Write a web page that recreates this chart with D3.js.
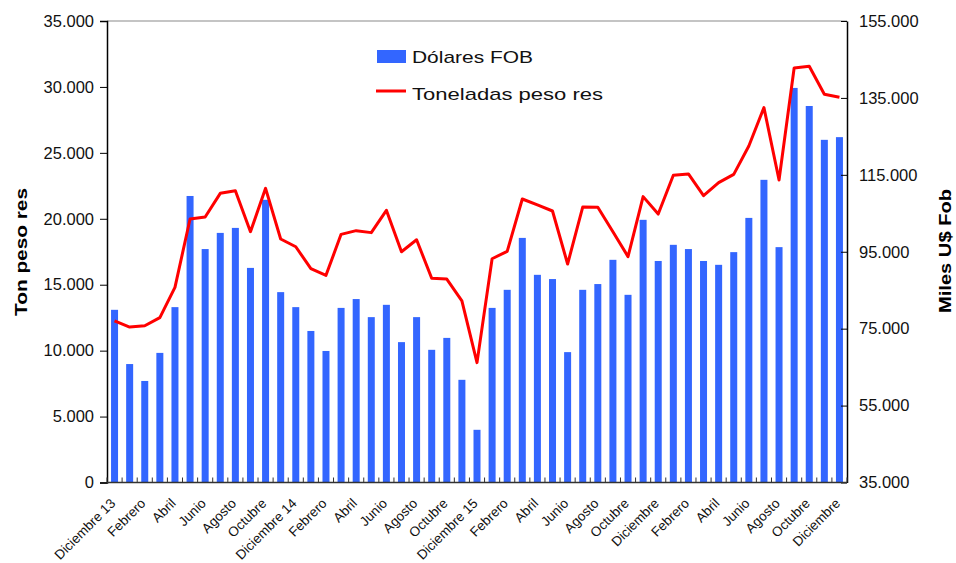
<!DOCTYPE html>
<html>
<head>
<meta charset="utf-8">
<script src="https://cdn.jsdelivr.net/npm/d3@7"></script>
<style>
  body { margin: 0; background: #fff; }
  svg { font-family: "Liberation Sans", Arial, sans-serif; }
</style>
</head>
<body>
<div id="chart"></div>
<script>
// months, Dec 2013 .. Dec 2017
const months = [
  "Diciembre 13", "Enero", "Febrero", "Marzo", "Abril", "Mayo", "Junio", "Julio", "Agosto", "Setiembre", "Octubre", "Noviembre",
  "Diciembre 14", "Enero", "Febrero", "Marzo", "Abril", "Mayo", "Junio", "Julio", "Agosto", "Setiembre", "Octubre", "Noviembre",
  "Diciembre 15", "Enero", "Febrero", "Marzo", "Abril", "Mayo", "Junio", "Julio", "Agosto", "Setiembre", "Octubre", "Noviembre",
  "Diciembre", "Enero", "Febrero", "Marzo", "Abril", "Mayo", "Junio", "Julio", "Agosto", "Setiembre", "Octubre", "Noviembre",
  "Diciembre"
];
// Dólares FOB (miles U$, right axis)
const dolaresFob = [
  79900, 65800, 61400, 68700, 80600, 109500, 95700, 99900, 101200, 90800, 108500, 84500,
  80600, 74400, 69200, 80400, 82700, 78000, 81200, 71500, 78000, 69500, 72600, 61700,
  48700, 80400, 85100, 98600, 89000, 87900, 68900, 85100, 86600, 92900, 83800, 103300,
  92600, 96800, 95700, 92600, 91600, 94900, 103800, 113700, 96200, 137600, 132900, 124100,
  124800
];
// Toneladas peso res (left axis)
const toneladas = [
  12250, 11790, 11890, 12500, 14800, 19980, 20140, 21930, 22130, 19020, 22310, 18470,
  17880, 16220, 15710, 18820, 19100, 18950, 20640, 17500, 18410, 15490, 15430, 13770,
  9090, 16970, 17530, 21500, 21050, 20590, 16570, 20890, 20870, 19020, 17130, 21680,
  20360, 23300, 23400, 21750, 22740, 23370, 25520, 28430, 22940, 31440, 31570, 29440,
  29210
];
const leftTicks = [0, 5000, 10000, 15000, 20000, 25000, 30000, 35000];
const rightTicks = [35000, 55000, 75000, 95000, 115000, 135000, 155000];

const W = 956, H = 563;
const m = { left: 107, right: 847, top: 21, bottom: 482.5 };
const fmt = d => d === 0 ? "0" : d3.format(",")(d).replace(/,/g, ".");

const svg = d3.select("#chart").append("svg").attr("width", W).attr("height", H);

const x = d3.scaleBand().domain(d3.range(months.length)).range([m.left, m.right]).padding(0);
const yL = d3.scaleLinear().domain([0, 35000]).range([m.bottom, m.top]);
const yR = d3.scaleLinear().domain([35000, 155000]).range([m.bottom, m.top]);

// top border
svg.append("line")
  .attr("x1", m.left).attr("x2", m.right).attr("y1", m.top).attr("y2", m.top)
  .attr("stroke", "#8a8a8a").attr("stroke-width", 1.2);

// bars
const bw = 7;
svg.append("g").selectAll("rect")
  .data(dolaresFob)
  .join("rect")
  .attr("x", (d, i) => x(i) + x.bandwidth() / 2 - bw / 2)
  .attr("y", d => yR(d))
  .attr("width", bw)
  .attr("height", d => yR(35000) - yR(d))
  .attr("fill", "#3366ff");

// line
svg.append("path")
  .datum(toneladas)
  .attr("fill", "none")
  .attr("stroke", "#ff0000")
  .attr("stroke-width", 3)
  .attr("stroke-linejoin", "round")
  .attr("d", d3.line().x((d, i) => x(i) + x.bandwidth() / 2).y(d => yL(d)));

// left axis
const gl = svg.append("g")
  .attr("transform", `translate(${m.left},0)`)
  .call(d3.axisLeft(yL).tickValues(leftTicks).tickFormat(fmt).tickSize(7).tickPadding(6));
gl.select(".domain").attr("stroke", "#000").attr("stroke-width", 1.5);
gl.selectAll(".tick line").attr("stroke", "#000");
gl.selectAll("text").attr("font-size", 16.5).attr("fill", "#111");

// right axis (ticks inward)
const gr = svg.append("g")
  .attr("transform", `translate(${m.right},0)`)
  .call(d3.axisRight(yR).tickValues(rightTicks).tickFormat(fmt).tickSizeInner(-6).tickSizeOuter(0).tickPadding(12));
gr.select(".domain").attr("stroke", "#000").attr("stroke-width", 1.5);
gr.selectAll(".tick line").attr("stroke", "#000");
gr.selectAll("text").attr("font-size", 16.5).attr("fill", "#111");

// x axis: category boundary ticks pointing up
const gx = svg.append("g").attr("transform", `translate(0,${m.bottom})`);
gx.append("line")
  .attr("x1", m.left).attr("x2", m.right)
  .attr("stroke", "#333").attr("stroke-width", 1.5);
gx.selectAll("line.tk")
  .data(d3.range(months.length + 1))
  .join("line")
  .attr("class", "tk")
  .attr("x1", i => m.left + i * x.step()).attr("x2", i => m.left + i * x.step())
  .attr("y1", 0).attr("y2", -5)
  .attr("stroke", "#333");
gx.selectAll("text")
  .data(months.map((d, i) => ({ d, i })).filter(o => o.i % 2 === 0))
  .join("text")
  .attr("transform", o => `translate(${x(o.i) + x.bandwidth() / 2 - 5},${15}) rotate(-45)`)
  .attr("text-anchor", "end")
  .attr("dy", "0.7em")
  .attr("font-size", 13.5)
  .attr("fill", "#111")
  .text(o => o.d);

// axis titles
svg.append("text")
  .attr("transform", `translate(27,252) rotate(-90)`)
  .attr("text-anchor", "middle")
  .attr("font-size", 17).attr("font-weight", "bold")
  .attr("textLength", 128).attr("lengthAdjust", "spacingAndGlyphs")
  .text("Ton peso res");
svg.append("text")
  .attr("transform", `translate(951,251) rotate(-90)`)
  .attr("text-anchor", "middle")
  .attr("font-size", 17).attr("font-weight", "bold")
  .attr("textLength", 124).attr("lengthAdjust", "spacingAndGlyphs")
  .text("Miles U$ Fob");

// legend
const lg = svg.append("g");
lg.append("rect").attr("x", 377).attr("y", 50).attr("width", 29).attr("height", 13).attr("fill", "#3366ff");
lg.append("text").attr("x", 412).attr("y", 63).attr("font-size", 17).attr("fill", "#111")
  .attr("textLength", 121).attr("lengthAdjust", "spacingAndGlyphs").text("Dólares FOB");
lg.append("line").attr("x1", 376).attr("x2", 406).attr("y1", 91).attr("y2", 91)
  .attr("stroke", "#ff0000").attr("stroke-width", 3);
lg.append("text").attr("x", 412).attr("y", 100).attr("font-size", 17).attr("fill", "#111")
  .attr("textLength", 191).attr("lengthAdjust", "spacingAndGlyphs").text("Toneladas peso res");
</script>
</body>
</html>
